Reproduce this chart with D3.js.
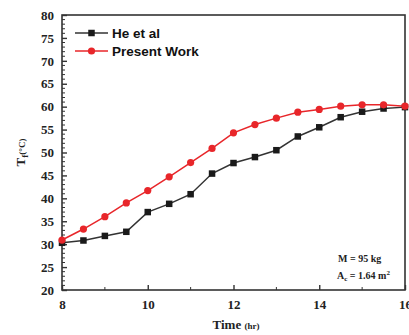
<!DOCTYPE html>
<html>
<head>
<meta charset="utf-8">
<script src="https://cdn.jsdelivr.net/npm/d3@7"></script>
<style>
  html, body { margin: 0; padding: 0; background: #fff; }
  svg { display: block; }
</style>
</head>
<body>
<svg id="chart" width="409" height="335"></svg>
<script>
// Fluid temperature over the day: reference data vs. present model
const times = [8, 8.5, 9, 9.5, 10, 10.5, 11, 11.5, 12, 12.5, 13, 13.5, 14, 14.5, 15, 15.5, 16];
const heEtAl = [30.3, 30.8, 31.8, 32.7, 37.0, 38.8, 40.9, 45.4, 47.7, 49.0, 50.5, 53.5, 55.5, 57.7, 58.9, 59.6, 59.9];
const presentWork = [30.9, 33.3, 36.0, 39.0, 41.7, 44.7, 47.8, 50.9, 54.3, 56.1, 57.5, 58.8, 59.4, 60.1, 60.4, 60.4, 60.1];
const xTicks = [8, 10, 12, 14, 16];
const xMinorTicks = [9, 11, 13, 15];
const yTicks = [20, 25, 30, 35, 40, 45, 50, 55, 60, 65, 70, 75, 80];
const seriesNames = ["He et al", "Present Work"];

const svg = d3.select("#chart");
const margin = { left: 62, right: 4, top: 15, bottom: 45 };
const W = 409, H = 335;
const x = d3.scaleLinear().domain([8, 16]).range([margin.left, W - margin.right]);
const y = d3.scaleLinear().domain([20, 80]).range([H - margin.bottom, margin.top]);

const axisColor = "#333";
const serif = "'Liberation Serif', 'Times New Roman', serif";
const sans = "'Liberation Sans', Arial, sans-serif";

// Frame
svg.append("rect")
  .attr("x", x(8)).attr("y", y(80))
  .attr("width", x(16) - x(8)).attr("height", y(20) - y(80))
  .attr("fill", "none").attr("stroke", axisColor).attr("stroke-width", 1.6);

// Y axis: inward ticks, minor ticks every 1 unit
const yAxis = d3.axisLeft(y).tickValues(yTicks).tickSizeInner(-5).tickSizeOuter(0).tickPadding(8)
  .tickFormat(d3.format("d"));
const gy = svg.append("g").attr("transform", `translate(${x(8)},0)`).call(yAxis);
gy.select(".domain").remove();
gy.selectAll(".tick line").attr("stroke", axisColor).attr("stroke-width", 1.4);
gy.selectAll("text").attr("font-family", serif).attr("font-weight", "bold")
  .attr("font-size", 13).attr("fill", "#222");
const yMinor = d3.range(21, 80).filter(v => v % 5 !== 0);
svg.append("g").selectAll("line").data(yMinor).join("line")
  .attr("x1", x(8)).attr("x2", x(8) + 3)
  .attr("y1", d => y(d)).attr("y2", d => y(d))
  .attr("stroke", axisColor).attr("stroke-width", 1);

// X axis: inward ticks
const xAxis = d3.axisBottom(x).tickValues(xTicks).tickSizeInner(-5).tickSizeOuter(0).tickPadding(10)
  .tickFormat(d3.format("d"));
const gx = svg.append("g").attr("transform", `translate(0,${y(20)})`).call(xAxis);
gx.select(".domain").remove();
gx.selectAll(".tick line").attr("stroke", axisColor).attr("stroke-width", 1.4);
gx.selectAll("text").attr("font-family", serif).attr("font-weight", "bold")
  .attr("font-size", 13).attr("fill", "#222");
svg.append("g").selectAll("line").data(xMinorTicks).join("line")
  .attr("x1", d => x(d)).attr("x2", d => x(d))
  .attr("y1", y(20)).attr("y2", y(20) - 3)
  .attr("stroke", axisColor).attr("stroke-width", 1);

// Axis titles
const xt = svg.append("text").attr("x", 236).attr("y", 329).attr("text-anchor", "middle")
  .attr("font-family", serif).attr("font-weight", "bold").attr("fill", "#222");
xt.append("tspan").attr("font-size", 13).text("Time ");
xt.append("tspan").attr("font-size", 9).text("(hr)");

const yt = svg.append("text").attr("transform", `translate(25,${y(50)}) rotate(-90)`)
  .attr("text-anchor", "middle").attr("font-family", serif).attr("font-weight", "bold").attr("fill", "#222");
yt.append("tspan").attr("font-size", 13).text("T");
yt.append("tspan").attr("font-size", 9).attr("dy", 3).text("f");
yt.append("tspan").attr("font-size", 9).attr("dy", -3).text("(°C)");

// Lines and markers
const line = d3.line().x((d, i) => x(times[i])).y(d => y(d));
const black = "#1a1a1a", red = "#e8262a";

svg.append("path").datum(heEtAl).attr("d", line)
  .attr("fill", "none").attr("stroke", "#333").attr("stroke-width", 1.5);
svg.append("path").datum(presentWork).attr("d", line)
  .attr("fill", "none").attr("stroke", red).attr("stroke-width", 1.5);

const sq = 6.5;
svg.append("g").selectAll("rect").data(heEtAl).join("rect")
  .attr("x", (d, i) => x(times[i]) - sq / 2).attr("y", d => y(d) - sq / 2)
  .attr("width", sq).attr("height", sq).attr("fill", black);
svg.append("g").selectAll("circle").data(presentWork).join("circle")
  .attr("cx", (d, i) => x(times[i])).attr("cy", d => y(d)).attr("r", 3.6).attr("fill", red);

// Legend
const legend = svg.append("g");
const legendRows = [
  { name: seriesNames[0], color: "#333", mark: "square", yPos: 33 },
  { name: seriesNames[1], color: red, mark: "circle", yPos: 51 }
];
legendRows.forEach(r => {
  legend.append("line").attr("x1", 75).attr("x2", 108).attr("y1", r.yPos).attr("y2", r.yPos)
    .attr("stroke", r.color).attr("stroke-width", 1.5);
  if (r.mark === "square") {
    legend.append("rect").attr("x", 91.5 - sq / 2).attr("y", r.yPos - sq / 2)
      .attr("width", sq).attr("height", sq).attr("fill", black);
  } else {
    legend.append("circle").attr("cx", 91.5).attr("cy", r.yPos).attr("r", 3.6).attr("fill", red);
  }
  legend.append("text").attr("x", 112).attr("y", r.yPos + 5)
    .attr("font-family", sans).attr("font-weight", "bold").attr("font-size", 13.5)
    .attr("fill", "#111").text(r.name);
});

// Parameter note
const note = svg.append("g").attr("font-family", serif).attr("font-weight", "bold")
  .attr("font-size", 10).attr("fill", "#222");
note.append("text").attr("x", 338).attr("y", 262).text("M = 95 kg");
const a = note.append("text").attr("x", 337).attr("y", 279);
a.append("tspan").text("A");
a.append("tspan").attr("font-size", 7).attr("dy", 2).text("c");
a.append("tspan").attr("dy", -2).text(" = 1.64 m");
a.append("tspan").attr("font-size", 7).attr("dy", -4).text("2");
</script>
</body>
</html>
